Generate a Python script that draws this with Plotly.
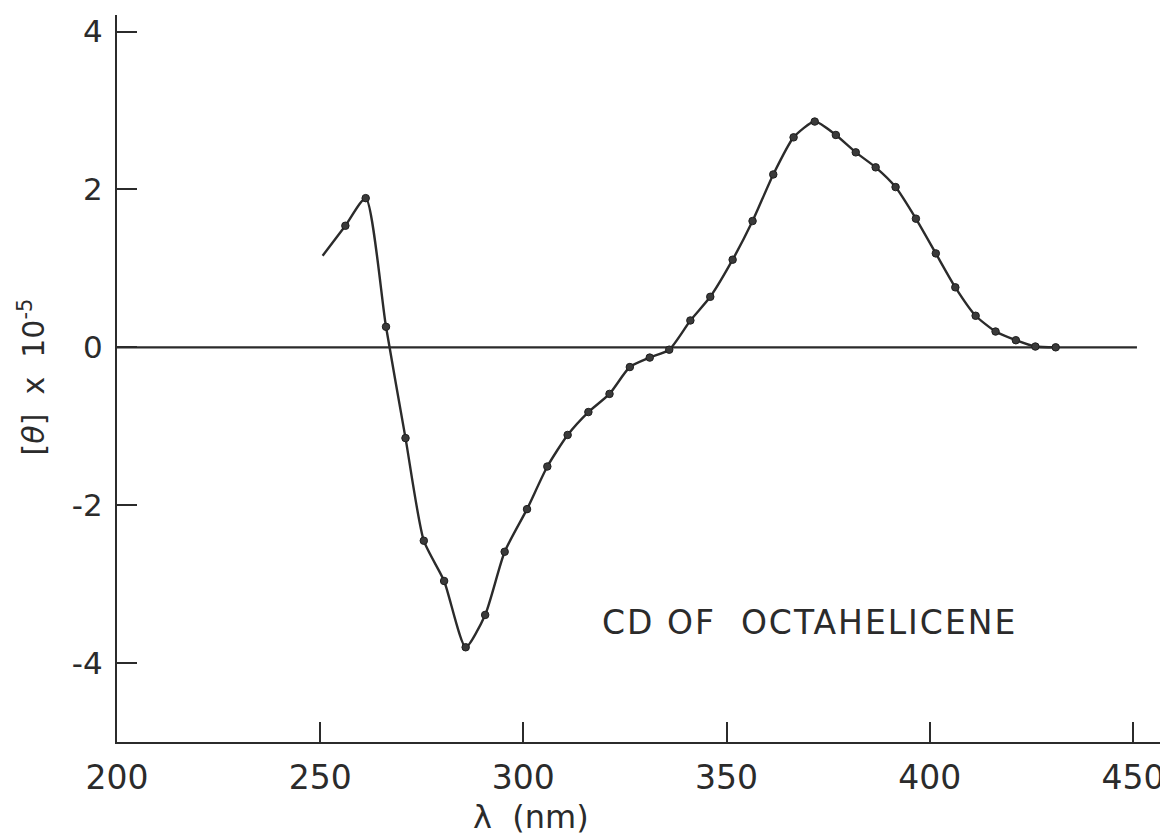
import plotly.graph_objects as go

# Curve data (wavelength in nm, [theta] x 1e-5)
line_start_x = [250.6]
line_start_y = [1.16]

wavelength = [256.2, 261.2, 266.2, 271.0, 275.5, 280.5, 285.8, 290.6, 295.4,
              300.9, 305.9, 310.9, 316.0, 321.2, 326.2, 331.1, 335.9, 341.1,
              346.0, 351.5, 356.4, 361.5, 366.5, 371.7, 376.9, 381.8, 386.7,
              391.6, 396.6, 401.5, 406.3, 411.3, 416.2, 421.2, 426.0, 431.0]
theta = [1.54, 1.89, 0.26, -1.15, -2.45, -2.96, -3.80, -3.39, -2.59,
         -2.05, -1.51, -1.11, -0.82, -0.59, -0.25, -0.13, -0.03, 0.34,
         0.64, 1.11, 1.60, 2.19, 2.66, 2.86, 2.69, 2.47, 2.28,
         2.03, 1.63, 1.19, 0.76, 0.40, 0.20, 0.09, 0.01, 0.0]

zero_x = [200, 451]
zero_y = [0, 0]

x_ticks = [200, 250, 300, 350, 400, 450]
x_ticktext = ["200", "250", "300", "350", "400", "450"]
y_ticks = [-4, -2, 0, 2, 4]
y_ticktext = ["-4", "-2", "0", "2", "4"]

ink = "#2b2b2b"
font_family = "DejaVu Sans"

fig = go.Figure()

fig.add_trace(go.Scatter(x=zero_x, y=zero_y, mode="lines",
                         line=dict(color=ink, width=2.2), hoverinfo="skip"))

fig.add_trace(go.Scatter(x=line_start_x + wavelength, y=line_start_y + theta,
                         mode="lines",
                         line=dict(color=ink, width=2.4, shape="spline", smoothing=0.6),
                         hoverinfo="skip"))

fig.add_trace(go.Scatter(x=wavelength, y=theta, mode="markers",
                         marker=dict(color="#3a3a3a", size=7.5,
                                     line=dict(color="#1e1e1e", width=1)),
                         hoverinfo="skip"))

# the page body adds an 8px offset, so the figure is 8px smaller
fig.update_layout(
    width=1160, height=828,
    margin=dict(l=109, r=3, t=7, b=94, autoexpand=False),
    paper_bgcolor="white", plot_bgcolor="white",
    showlegend=False,
    font=dict(family=font_family, color=ink),
)

fig.update_xaxes(
    range=[200, 457.9], automargin=False,
    tickvals=x_ticks, ticktext=x_ticktext,
    ticks="inside", ticklen=20, tickwidth=1.8, tickcolor=ink,
    showline=True, linecolor=ink, linewidth=2.2, mirror=False,
    showgrid=False, zeroline=False,
    tickfont=dict(size=33, family=font_family, color=ink),
    ticklabelstandoff=5,
)
fig.update_yaxes(
    range=[-5, 4.21], automargin=False,
    tickvals=y_ticks, ticktext=y_ticktext,
    ticks="inside", ticklen=20, tickwidth=1.8, tickcolor=ink,
    showline=True, linecolor=ink, linewidth=2.2, mirror=False,
    showgrid=False, zeroline=False,
    tickfont=dict(size=31, family=font_family, color=ink),
    ticklabelstandoff=6,
)

fig.add_annotation(x=302, y=-0.103, xref="x", yref="paper",
                   text="λ  (nm)", showarrow=False,
                   font=dict(size=32, family=font_family, color=ink),
                   xanchor="center", yanchor="middle")

fig.add_annotation(x=-0.081, y=-0.38, xref="paper", yref="y",
                   text="[<i>θ</i>]  x  10<sup>-5</sup>", showarrow=False,
                   textangle=-90,
                   font=dict(size=30, family=font_family, color=ink),
                   xanchor="center", yanchor="middle")

fig.add_annotation(x=370.5, y=-3.49, xref="x", yref="y",
                   text='<span style="letter-spacing:2px">CD OF  OCTAHELICENE</span>',
                   showarrow=False,
                   font=dict(size=33, family=font_family, color=ink),
                   xanchor="center", yanchor="middle")

fig.write_html("out.html")
